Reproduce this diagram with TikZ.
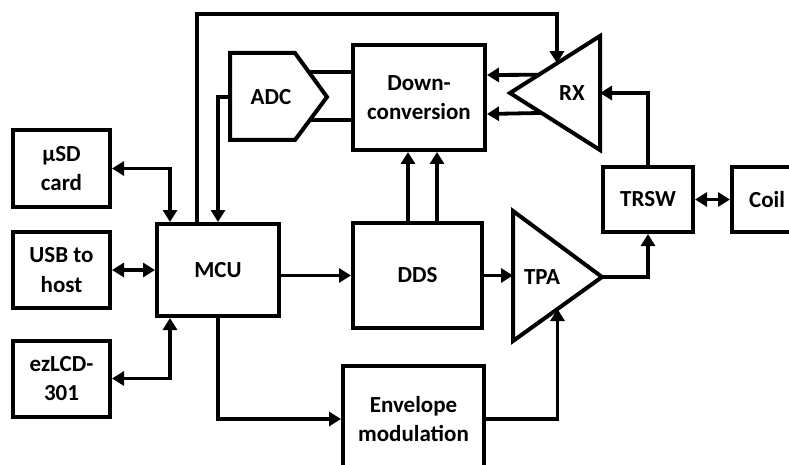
\documentclass[tikz,border=0pt]{standalone}
\usepackage{fontspec}
\setmainfont{Carlito}
\usetikzlibrary{positioning,calc,arrows.meta}

\begin{document}
\begin{tikzpicture}[x=1pt,y=-1pt,line width=3.8pt,line join=miter,
    blk/.style={draw,line width=4pt,align=center,inner sep=0pt,
      font=\bfseries\fontsize{23}{29.5}\selectfont},
    lbl/.style={font=\bfseries\fontsize{23}{29.5}\selectfont},
    arr/.style={-{Triangle[length=12pt,width=14pt]}},
    darr/.style={{Triangle[length=12pt,width=14pt]}-{Triangle[length=12pt,width=14pt]}}]
    \useasboundingbox (0,0) rectangle (789,465);
    % left column
    \foreach \name/\y/\label in {sd/168.5/µSD\\card,usb/270/USB to\\host,lcd/378.5/ezLCD-\\301}{
      \node[blk,minimum width=97pt,minimum height=76pt] (\name) at (61.5,\y) {\label};
    }
    \node[blk,minimum width=122pt,minimum height=92pt] (mcu) at (218,270) {MCU};
    \node[blk,minimum width=129pt,minimum height=105pt] (dds) at (417.5,275.5) {DDS};
    \node[blk,minimum width=132pt,minimum height=105pt] (dc) at (419,97.5) {Down-\\conversion};
    \node[blk,minimum width=141pt,minimum height=106pt,yshift=-1pt] (env) at (413.5,418) {Envelope\\modulation};
    \node[blk,minimum width=90pt,minimum height=65pt] (trsw) at (648,199.5) {TRSW};
    \node[blk,minimum width=70pt,minimum height=65pt] (coil) at (767,199.5) {Coil};
    % ADC, RX and TPA shapes
    \draw[line width=4pt] (230,53) -- (295,53) -- (327,97) coordinate (adcTip) -- (295,140) -- (230,140) -- cycle;
    \coordinate (adcL) at (230,97);
    \node[lbl] (adc) at (271,97) {ADC};
    \draw[line width=4pt] (600,36) coordinate (rxTop) -- (510,93) coordinate (rxTip) -- (600,150) coordinate (rxBot) -- cycle;
    \coordinate (rxR) at (600,93);
    \node[lbl] (rx) at (572,93) {RX};
    \draw[line width=4pt] (513,211) coordinate (tpaTop) -- (602,277) coordinate (tpaTip) -- (513,341) coordinate (tpaBot) -- cycle;
    \node[lbl] (tpa) at (542,277) {TPA};
    % connectors
    \draw[darr] (sd.east) -| (mcu.north -| 170,0);
    \draw[darr] (usb) -- (mcu);
    \draw[darr] (lcd.east) -| (mcu.south -| 170,0);
    \draw[arr] ($(mcu.north)+(-21,0)$) |- (557,14) -- ($(rxTop)!0.478!(rxTip)$);
    \draw[arr] (adcL) -| (mcu.north);
    \draw[arr] (mcu.south) |- (env.west);
    \draw[arr] (mcu.east |- dds.west) -- (dds.west);
    \draw[arr] (dds.east) -- (dds.east -| tpaTop);
    \draw[arr] (env.east) -| ($(tpaBot)!0.5!(tpaTip)$);
    \draw[arr] (tpaTip) -| (trsw.south);
    \draw[arr] (trsw.north) |- (rxR);
    \draw[darr] (trsw) -- (coil);
    \foreach \x in {408,437}{
      \draw[arr] (dds.north -| \x,0) -- (dc.south -| \x,0);
    }
    \foreach \y in {72,120}{
      \draw (309,\y) -- (dc.west |- 0,\y);
    }
    \draw[arr] ($(rxTip)!0.32!(rxTop)$) -- (dc.east |- 0,75);
    \draw[arr] ($(rxTip)!0.35!(rxBot)$) -- (dc.east |- 0,114);
  \end{tikzpicture}
\end{document}
